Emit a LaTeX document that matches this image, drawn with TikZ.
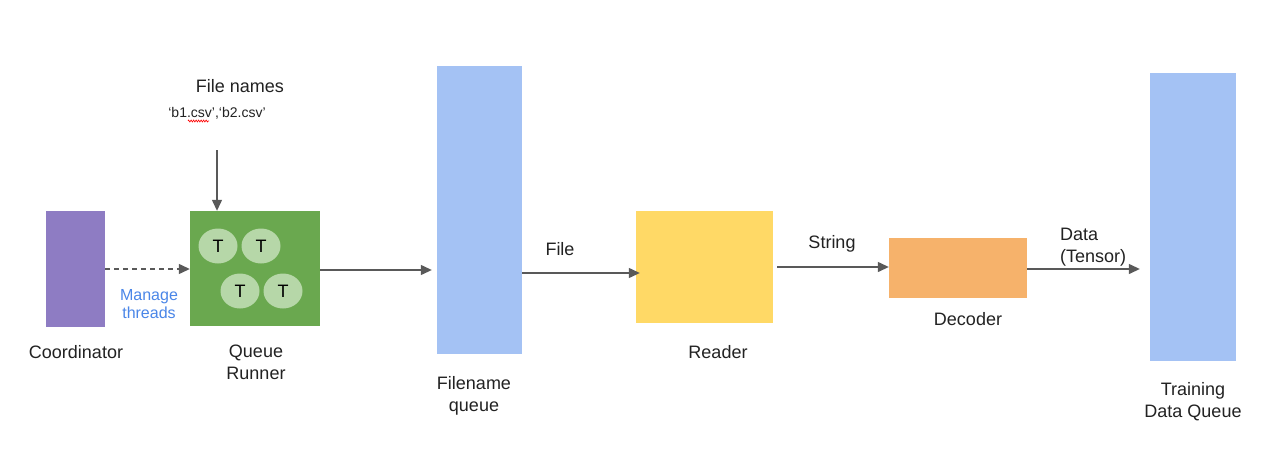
\documentclass[tikz,border=0pt]{standalone}
\usepackage{fontspec}
\setmainfont{Liberation Sans}
\usetikzlibrary{shapes.geometric,arrows.meta,decorations.pathmorphing}
\definecolor{cpurple}{HTML}{8E7CC3}
\definecolor{cgreen}{HTML}{6AA84F}
\definecolor{clgreen}{HTML}{B6D7A8}
\definecolor{cblue}{HTML}{A4C2F4}
\definecolor{cyellow}{HTML}{FFD966}
\definecolor{corange}{HTML}{F6B26B}
\definecolor{ctext}{HTML}{4A86E8}
\definecolor{carrow}{HTML}{595959}
\definecolor{ctxt}{HTML}{222222}
\tikzset{
  blk/.style={draw=none, inner sep=0pt, rectangle},
  lbl/.style={inner sep=0pt, align=center, text=ctxt, font=\fontsize{18}{22}\selectfont},
  arr/.style={draw=carrow, line width=1.3pt, -{Triangle[length=11pt,width=10pt]}},
  thread/.style={ellipse, fill=clgreen, minimum width=39pt, minimum height=35pt, inner sep=0pt, font=\fontsize{18}{20}\selectfont}
}
\begin{document}
\begin{tikzpicture}[x=1pt,y=-1pt]
\useasboundingbox[fill=white] (0,0) rectangle (1266,452);
% blocks
\node[blk, fill=cpurple, minimum width=59pt, minimum height=116pt] (coord) at (75.5,269) {};
\node[blk, fill=cgreen, minimum width=130pt, minimum height=115pt] (qr) at (255,268.5) {};
\node[blk, fill=cblue, minimum width=85pt, minimum height=288pt] (fq) at (479.5,210) {};
\node[blk, fill=cyellow, minimum width=137pt, minimum height=112pt] (reader) at (704.5,267) {};
\node[blk, fill=corange, minimum width=138pt, minimum height=60pt] (dec) at (958,268) {};
\node[blk, fill=cblue, minimum width=86pt, minimum height=288pt] (tdq) at (1193,217) {};
% threads
\node[thread] (t1) at (218,246) {T};
\node[thread] (t2) at (261,246) {T};
\node[thread] (t3) at (240,291) {T};
\node[thread] (t4) at (283,291) {T};
% labels
\node[lbl] (lfn) at (240,86) {File names};
\node[lbl, font=\fontsize{14}{17}\selectfont] (lfiles) at (217,113) {`b1.csv',`b2.csv'};
\draw[red, line width=0.6pt, decorate, decoration={zigzag, amplitude=1pt, segment length=2.5pt}] (188,121) -- (209,121);
\node[lbl] (lcoord) at (76,352) {Coordinator};
\node[lbl, text=ctext, font=\fontsize{16}{18}\selectfont] (lman) at (149,304) {Manage\\threads};
\node[lbl] (lqr) at (256,362) {Queue\\Runner};
\node[lbl] (lfq) at (474,396) {Filename\\queue};
\node[lbl] (lfile) at (560,249) {File};
\node[lbl] (lreader) at (718,352) {Reader};
\node[lbl] (lstr) at (832,244) {String};
\node[lbl] (ldec) at (968,319) {Decoder};
\node[lbl, align=left] (ldata) at (1093,247) {Data\\(Tensor)};
\node[lbl] (ltdq) at (1193,402) {Training\\Data Queue};
% connectors
\coordinate (fnin) at (217,150);
\draw[arr] (fnin) -- (fnin |- qr.north);
\draw[arr, dashed, dash pattern=on 5pt off 4pt] (coord.east) -- (coord.east -| qr.west);
\draw[arr, shorten >=5pt] ([yshift=-1.5pt]qr.east) -- ([yshift=-1.5pt]qr.east -| fq.west);
\draw[arr, shorten >=-4pt] ([yshift=-63pt]fq.east) -- ([yshift=-63pt]fq.east -| reader.west);
\draw[arr, shorten <=4pt] (reader.east) -- (reader.east -| dec.west);
\draw[arr, shorten >=10pt] ([yshift=-1pt]dec.east) -- ([yshift=-1pt]dec.east -| tdq.west);
\end{tikzpicture}
\end{document}
